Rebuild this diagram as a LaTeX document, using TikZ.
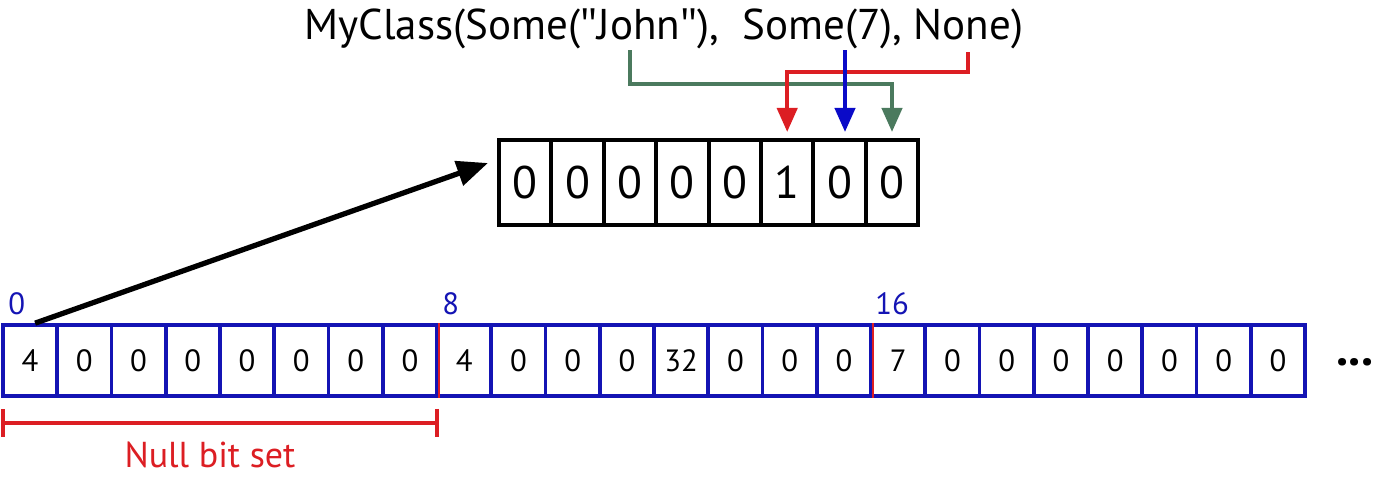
\documentclass[tikz,border=0pt]{standalone}
\usepackage{fontspec}
\setmainfont{PT Sans}
\newfontfamily\quotefont{Open Sans}
\newcommand{\dq}{{\quotefont\symbol{34}}}
\usetikzlibrary{arrows.meta,calc}

\definecolor{cellblue}{HTML}{1414B4}
\definecolor{bitred}{HTML}{DC1E23}
\definecolor{bitblue}{HTML}{0A0AC8}
\definecolor{bitgreen}{HTML}{4B7A5E}

\tikzset{
  bytecell/.style={draw=cellblue,line width=2.1pt,minimum width=1.085cm,minimum height=1.42cm,inner sep=0pt,font=\fontsize{17.5}{20}\selectfont},
  bitcell/.style={draw=black,line width=2.3pt,minimum width=1.048cm,minimum height=1.7cm,inner sep=0pt,font=\fontsize{26}{30}\selectfont},
  offset/.style={text=cellblue,anchor=base west,inner sep=0pt,font=\fontsize{17.5}{20}\selectfont},
  bitarrow/.style={line width=2.4pt,-{Triangle[length=0.48cm,width=0.4cm]},shorten >=0.12cm}
}

\begin{document}
\begin{tikzpicture}[x=0.02cm,y=-0.02cm]
\useasboundingbox (0,0) rectangle (1400,477);

\node[anchor=base,inner sep=0pt,font=\fontsize{24.5}{28}\selectfont] (title) at (664,39) {MyClass(Some(\dq John\dq),\ \ Some(7), None)};

%%% riga di byte
\foreach \v [count=\i from 0] in {4,0,0,0,0,0,0,0,4,0,0,0,32,0,0,0,7,0,0,0,0,0,0,0}
  \node[bytecell] (b\i) at ({3+54.25*(\i+0.5)},360.5) {\v};

\draw[bitred,line width=1.3pt] (b7.north east) -- (b7.south east);
\draw[bitred,line width=1.3pt] (b15.north east) -- (b15.south east);

\node[offset] (off0) at (8,314) {0};
\node[offset] (off8) at (442,314) {8};
\node[offset] (off16) at (875,314) {16};

\node[font=\fontsize{28}{30}\bfseries\selectfont] (dots) at (1355,362) {...};

%%% null bit set
\draw[bitred,line width=2pt,{Bar[width=0.56cm]}-{Bar[width=0.56cm]}] ([yshift=-0.5cm]b0.south west) coordinate (nullL) -- ([yshift=-0.5cm]b7.south east) coordinate (nullR);
\node[text=bitred,inner sep=0pt,anchor=base,font=\fontsize{20.5}{24}\selectfont] (nullbits) at (210,467) {Null bit set};

%%% riga di bit
\foreach \v [count=\i from 0] in {0,0,0,0,0,1,0,0}
  \node[bitcell] (t\i) at ({499+52.4*(\i+0.5)},182.5) {\v};

%freccia
\draw[line width=3pt,-{Triangle[length=0.62cm,width=0.5cm]}] ([xshift=0.1cm]b0.north) -- ([shift={(-0.18cm,0.39cm)}]t0.west);

\coordinate (john) at (630,50);
\coordinate (seven) at (845,50);
\coordinate (none) at (968,52);

\draw[bitarrow,bitgreen] (john) -- ++(0,34) -| (t7.north);
\draw[bitarrow,bitred] (none) -- ++(0,20) -| (t5.north);
\draw[bitarrow,bitblue] (seven) -- (seven |- t6.north);

\end{tikzpicture}
\end{document}
